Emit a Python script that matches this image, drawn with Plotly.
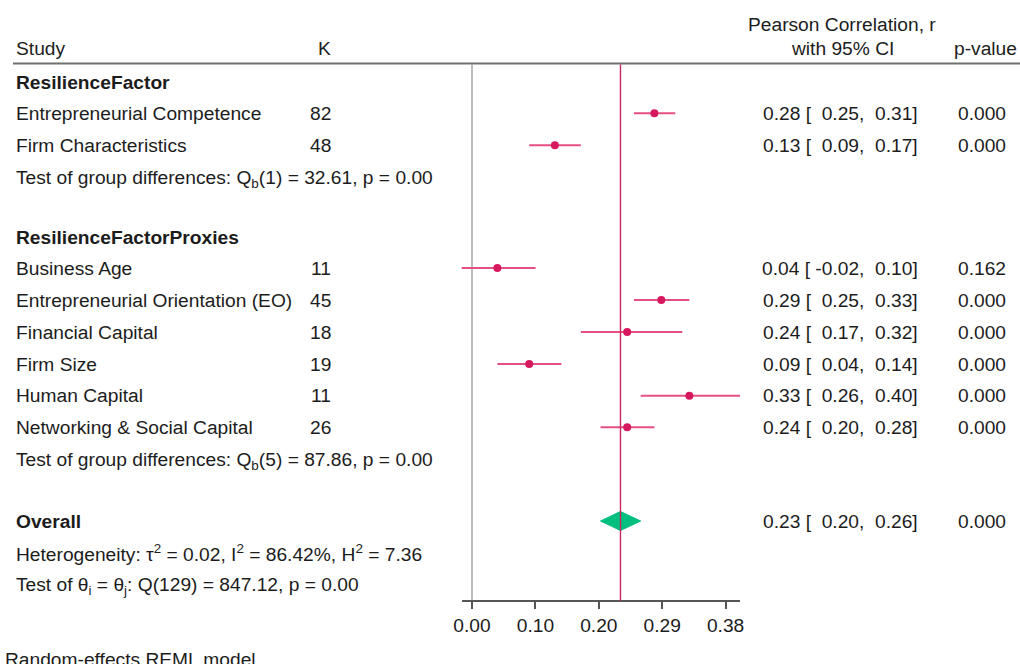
import numpy as np
import plotly.graph_objects as go

# ---- data -----------------------------------------------------------------
groups = ["ResilienceFactor", "ResilienceFactorProxies"]

studies = [
    "Entrepreneurial Competence",
    "Firm Characteristics",
    "Business Age",
    "Entrepreneurial Orientation (EO)",
    "Financial Capital",
    "Firm Size",
    "Human Capital",
    "Networking & Social Capital",
]
study_group = [0, 0, 1, 1, 1, 1, 1, 1]
k_values = [82, 48, 11, 45, 18, 19, 11, 26]
r_est = [0.28, 0.13, 0.04, 0.29, 0.24, 0.09, 0.33, 0.24]
r_lo = [0.25, 0.09, -0.02, 0.25, 0.17, 0.04, 0.26, 0.20]
r_hi = [0.31, 0.17, 0.10, 0.33, 0.32, 0.14, 0.40, 0.28]
p_values = ["0.000", "0.000", "0.162", "0.000", "0.000", "0.000", "0.000", "0.000"]

group_tests = [
    "Test of group differences: Q<sub>b</sub>(1) = 32.61, p = 0.00",
    "Test of group differences: Q<sub>b</sub>(5) = 87.86, p = 0.00",
]

overall_r = 0.23
overall_lo = 0.20
overall_hi = 0.26
overall_p = "0.000"
heterogeneity = ("Heterogeneity: \u03c4<sup>2</sup> = 0.02, I<sup>2</sup> = 86.42%, "
                 "H<sup>2</sup> = 7.36")
homogeneity_test = "Test of \u03b8<sub>i</sub> = \u03b8<sub>j</sub>: Q(129) = 847.12, p = 0.00"
model_note = "Random-effects REML model"

# axis ticks sit on the Fisher-z scale, labelled with the correlation r
tick_z = [0.0, 0.1, 0.2, 0.3, 0.4]
tick_labels = ["0.00", "0.10", "0.20", "0.29", "0.38"]

# ---- layout (pixel rows, figure is 1020 x 664) -----------------------------
W, H = 1020, 664
group_row_y = [82, 237]
study_row_y = [113.3, 145.3, 268, 300, 332, 364, 395.7, 427.3]
test_row_y = [179, 460.5]
overall_y = 521
hetero_y = 553
qtest_y = 586
axis_y = 601
header_top_y = 24
header_y = 48
rule_y = 63.5

FONT = "Liberation Sans, Arial, sans-serif"
FS = 19.2
TXT = "#1c1c1c"
MARK = "#d6185e"
CI = "#e5507f"
REF = "#c8285a"
DIAMOND = "#00bf7f"

# column anchors (annotation box edges, in pixels)
x_study, x_k, x_eff, x_p = 14, 333, 920, 1008
x_eff_head, x_p_head = 842, 985
px_left, px_right = 461.7, 740.0
px_zero, px_per_z = 472.0, 634.0


def nb(s):
    return s.replace(" ", "\u00a0")


def fmt_ci(est, lo, hi):
    return nb(f"{est:.2f} [{lo:6.2f},{hi:6.2f}]")


z = np.arctanh

fig = go.Figure()

# confidence-interval whiskers
ci_x, ci_y = [], []
for lo, hi, yy in zip(r_lo, r_hi, study_row_y):
    ci_x += [z(lo), z(hi), None]
    ci_y += [yy, yy, None]
fig.add_trace(go.Scatter(x=ci_x, y=ci_y, mode="lines",
                         line=dict(color=CI, width=2), hoverinfo="skip",
                         showlegend=False))

# point estimates
fig.add_trace(go.Scatter(x=[z(v) for v in r_est], y=study_row_y, mode="markers",
                         marker=dict(color=MARK, size=8), showlegend=False,
                         cliponaxis=False))

# overall diamond
half_h = 9.5
fig.add_trace(go.Scatter(
    x=[z(overall_lo), z(overall_r), z(overall_hi), z(overall_r), z(overall_lo)],
    y=[overall_y, overall_y - half_h, overall_y, overall_y + half_h, overall_y],
    mode="lines", fill="toself", fillcolor=DIAMOND,
    line=dict(color=DIAMOND, width=1), showlegend=False, hoverinfo="skip"))

shapes = [
    # header rule
    dict(type="line", xref="paper", yref="y", x0=13 / W, x1=1, y0=rule_y, y1=rule_y,
         line=dict(color="#707070", width=2.2)),
    # no-effect line
    dict(type="line", xref="x", yref="y", x0=0, x1=0, y0=rule_y + 1, y1=axis_y,
         line=dict(color="#bdbdbd", width=2), layer="below"),
    # overall effect line
    dict(type="line", xref="x", yref="y", x0=z(overall_r), x1=z(overall_r),
         y0=rule_y + 1, y1=axis_y, line=dict(color=REF, width=1.4)),
]

ann = []


def text(x, y, s, anchor="left", bold=False, size=FS):
    if bold:
        s = f"<b>{s}</b>"
    ann.append(dict(x=x / W, y=y, xref="paper", yref="y", text=s, showarrow=False,
                    xanchor=anchor, yanchor="middle",
                    font=dict(family=FONT, size=size, color=TXT)))


# column headers
text(x_study, header_y, "Study")
text(x_k, header_y, "K", anchor="right")
text(x_eff_head, header_top_y, "Pearson Correlation, r", anchor="center")
text(x_eff_head, header_y, "with 95% CI", anchor="center")
text(x_p_head, header_y, "p-value", anchor="center")

for g, gy in enumerate(group_row_y):
    text(x_study, gy, groups[g], bold=True)
    text(x_study, test_row_y[g], group_tests[g])

for i, name in enumerate(studies):
    yy = study_row_y[i]
    text(x_study, yy, name)
    text(x_k, yy, str(k_values[i]), anchor="right")
    text(x_eff, yy, fmt_ci(r_est[i], r_lo[i], r_hi[i]), anchor="right")
    text(x_p, yy, p_values[i], anchor="right")

text(x_study, overall_y, "Overall", bold=True)
text(x_eff, overall_y, fmt_ci(overall_r, overall_lo, overall_hi), anchor="right")
text(x_p, overall_y, overall_p, anchor="right")
text(x_study, hetero_y, heterogeneity)
text(x_study, qtest_y, homogeneity_test)
text(3, 659, model_note)

z_left = (px_left - px_zero) / px_per_z
z_right = (px_right - px_zero) / px_per_z

fig.update_layout(
    width=W, height=H,
    margin=dict(l=0, r=0, t=0, b=0, autoexpand=False),
    paper_bgcolor="white", plot_bgcolor="rgba(0,0,0,0)",
    showlegend=False,
    shapes=shapes, annotations=ann,
    xaxis=dict(domain=[px_left / W, px_right / W], range=[z_left, z_right],
               anchor="free", position=1 - axis_y / H,
               showgrid=False, zeroline=False, showline=True,
               linecolor="#555555", linewidth=1.6,
               ticks="outside", ticklen=7, tickwidth=1.6, tickcolor="#555555",
               tickvals=tick_z, ticktext=tick_labels,
               tickfont=dict(family=FONT, size=FS, color=TXT)),
    yaxis=dict(domain=[0, 1], range=[H, 0], visible=False, showgrid=False,
               zeroline=False),
)

fig.write_html("out.html")
